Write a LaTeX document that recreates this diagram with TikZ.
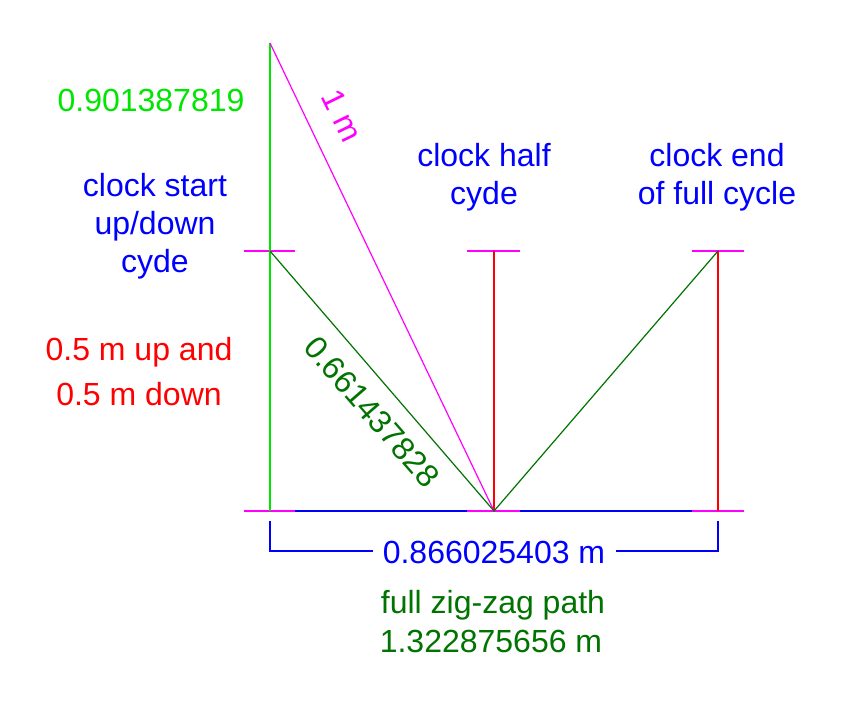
\documentclass[tikz,border=0pt]{standalone}
\usepackage{fontspec}
\setmainfont{Liberation Sans}
\definecolor{lgreen}{RGB}{0,230,0}
\definecolor{dgreen}{RGB}{0,115,0}
\definecolor{mag}{RGB}{255,0,255}
\definecolor{bl}{RGB}{0,0,255}
\definecolor{rd}{RGB}{255,0,0}
\begin{document}
\begin{tikzpicture}[x=1pt,y=-1pt,
  lbl/.style={font=\fontsize{32}{38}\selectfont, inner sep=0pt, anchor=base},
  rlbl/.style={font=\fontsize{32}{38}\selectfont, inner sep=0pt, anchor=center},
  thin/.style={line width=1.2pt},
  tick/.style={line width=1.5pt, mag}]
\useasboundingbox[fill=white] (0,0) rectangle (845,701);
% points
\coordinate (top) at (270,43);
\coordinate (A) at (270,251);
\coordinate (B) at (494,511);
\coordinate (C) at (718,251);
\coordinate (A0) at (270,511);
\coordinate (Bt) at (494,251);
\coordinate (C0) at (718,511);
% baseline
\draw[thin, bl] (295,511) -- (467,511);
\draw[thin, bl] (520,511) -- (692,511);
\draw[tick] (244,511) -- (295,511);
\draw[tick] (467,511) -- (520,511);
\draw[tick] (692,511) -- (744,511);
% ticks at top
\draw[tick] (244,251) -- (295,251);
\draw[tick] (467,251) -- (520,251);
\draw[tick] (692,251) -- (744,251);
% verticals
\draw[thin, lgreen] (top) -- (A0);
\draw[thin, rd] (Bt) -- (B);
\draw[thin, rd] (C) -- (C0);
% diagonals
\draw[thin, mag] (top) -- (B);
\draw[thin, dgreen] (A) -- (B) -- (C);
% dimension
\coordinate (d1) at (270,521);
\coordinate (d2) at (718,521);
\draw[thin, bl] (d1) -- (270,551) -- (373,551);
\draw[thin, bl] (616,551) -- (718,551) -- (d2);
% labels
\node[lbl, lgreen] (t1) at (151,111) {0.901387819};
\node[rlbl, mag, rotate=-64] (t2) at (342,116) {1 m};
\node[lbl, bl] (t3) at (155,196) {clock start};
\node[lbl, bl] (t4) at (155,234) {up/down};
\node[lbl, bl] (t5) at (155,272) {cyde};
\node[lbl, bl] (t6) at (484,166) {clock half};
\node[lbl, bl] (t7) at (484,204) {cyde};
\node[lbl, bl] (t8) at (717,166) {clock end};
\node[lbl, bl] (t9) at (717,204) {of full cycle};
\node[lbl, rd] (t10) at (139,360) {0.5 m up and};
\node[lbl, rd] (t11) at (139,405) {0.5 m down};
\node[rlbl, dgreen, rotate=-49] (t12) at (372,412) {0.661437828};
\node[lbl, bl] (t13) at (494,563) {0.866025403 m};
\node[lbl, dgreen] (t14) at (493,613) {full zig-zag path};
\node[lbl, dgreen] (t15) at (491,652) {1.322875656 m};
\end{tikzpicture}
\end{document}
